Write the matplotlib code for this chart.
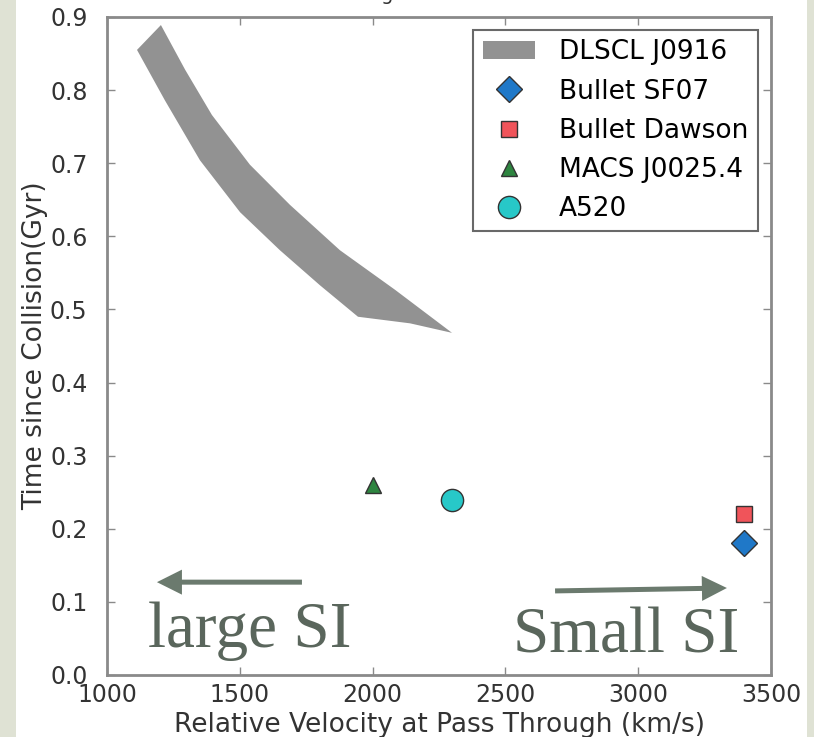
import matplotlib
matplotlib.use("Agg")
import matplotlib.pyplot as plt
from matplotlib.patches import Rectangle

# DLSCL J0916 allowed region: upper and lower edges of the band
band_upper_v = [1203, 1294, 1395, 1538, 1689, 1877, 2084, 2299]
band_upper_t = [0.889, 0.828, 0.766, 0.698, 0.643, 0.581, 0.527, 0.468]
band_lower_v = [1113, 1218, 1350, 1501, 1651, 1802, 1945, 2141]
band_lower_t = [0.855, 0.786, 0.704, 0.633, 0.581, 0.533, 0.490, 0.481]

# other merging clusters
cluster_names = ["Bullet SF07", "Bullet Dawson", "MACS J0025.4", "A520"]
cluster_v = [3400, 3400, 2000, 2300]
cluster_t = [0.18, 0.22, 0.26, 0.24]
cluster_markers = ["D", "s", "^", "o"]
cluster_colors = ["#1f78c8", "#f0545a", "#2e8540", "#27c8c8"]
cluster_sizes = [13, 12, 12, 16]

xticks = [1000, 1500, 2000, 2500, 3000, 3500]
yticks = [0.0, 0.1, 0.2, 0.3, 0.4, 0.5, 0.6, 0.7, 0.8, 0.9]

SLIDE_GREEN = "#5a665c"
SPINE_GRAY = "#8a8a8a"


def main():
    fig = plt.figure(figsize=(8.14, 7.37), dpi=100)
    fig.patch.set_facecolor("white")
    # slide background showing at the edges
    fig.patches.append(Rectangle((0, 0), 16 / 814, 1, transform=fig.transFigure,
                                 facecolor="#dfe2d4", edgecolor="none", zorder=-1))
    fig.patches.append(Rectangle((807 / 814, 0), 7 / 814, 1, transform=fig.transFigure,
                                 facecolor="#dfe2d4", edgecolor="none", zorder=-1))

    ax = fig.add_axes([107 / 814, 62 / 737, 664 / 814, 658 / 737])

    band_v = band_upper_v + band_lower_v[::-1]
    band_t = band_upper_t + band_lower_t[::-1]
    ax.fill(band_v, band_t, color="#929292", lw=0, label="DLSCL J0916")

    for name, v, t, m, c, s in zip(cluster_names, cluster_v, cluster_t,
                                   cluster_markers, cluster_colors, cluster_sizes):
        ax.plot([v], [t], linestyle="none", marker=m, color=c, markersize=s,
                markeredgecolor="#333333", markeredgewidth=1, label=name)

    ax.set_xlim(1000, 3500)
    ax.set_ylim(0, 0.9)
    ax.set_xticks(xticks)
    ax.set_yticks(yticks)
    ax.set_yticklabels(["%.1f" % y for y in yticks])
    ax.tick_params(direction="in", top=True, right=True, length=6, width=1,
                   color=SPINE_GRAY, labelsize=17, labelcolor="#333333")
    ax.tick_params(axis="x", pad=6)
    ax.tick_params(axis="y", pad=14)
    for spine in ax.spines.values():
        spine.set_color(SPINE_GRAY)
        spine.set_linewidth(2)

    ax.set_xlabel("Relative Velocity at Pass Through (km/s)", fontsize=19,
                  color="#333333", labelpad=3)
    ax.set_ylabel("Time since Collision(Gyr)", fontsize=19, color="#333333",
                  labelpad=1)
    ax.set_title("Right ascension", fontsize=14, color="#333333", pad=12)

    leg = ax.legend(loc="upper right", fontsize=19, numpoints=1, fancybox=False,
                    borderaxespad=0.5, labelspacing=0.5, handlelength=2.0,
                    handletextpad=0.9, borderpad=0.35)
    leg.get_frame().set_edgecolor("#444444")
    leg.get_frame().set_linewidth(1.5)

    # direction of self-interaction strength
    ax.annotate("", xy=(1188, 0.127), xytext=(1734, 0.127),
                arrowprops=dict(facecolor="#6b7a6e", edgecolor="none", width=3.6,
                                headwidth=18, headlength=18, shrink=0))
    ax.annotate("", xy=(3334, 0.119), xytext=(2687, 0.115),
                arrowprops=dict(facecolor="#6b7a6e", edgecolor="none", width=3.6,
                                headwidth=18, headlength=18, shrink=0))
    ax.text(1154, 0.038, "large SI", fontsize=47, family="Liberation Serif",
            color=SLIDE_GREEN)
    ax.text(2529, 0.031, "Small SI", fontsize=47, family="Liberation Serif",
            color=SLIDE_GREEN)

    fig.savefig("out.png", dpi=100)


if __name__ == '__main__':
    main()
